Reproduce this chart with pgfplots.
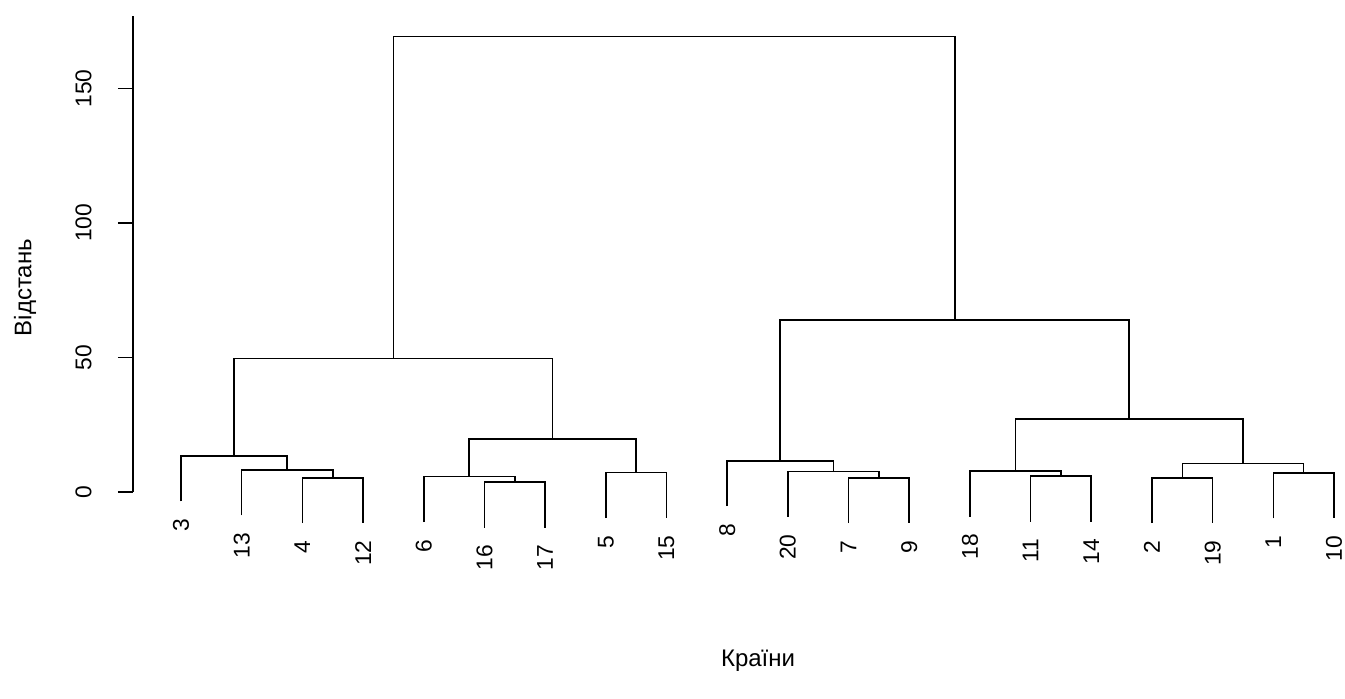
\documentclass[border=0pt]{standalone}
\usepackage{fontspec}
\setmainfont{Liberation Sans}
\usepackage{pgfplots}
\pgfplotsset{compat=1.18}
\usepackage{pgfplotstable}

\pgfplotstableread{
x y label
1 -9.95 3
2 -15.15 13
3 -18.05 4
4 -18.05 12
5 -17.65 6
6 -19.75 16
7 -19.75 17
8 -16.15 5
9 -16.15 15
10 -11.75 8
11 -15.75 20
12 -18.05 7
13 -18.05 9
14 -15.65 18
15 -17.5 11
16 -17.5 14
17 -18.05 2
18 -18.05 19
19 -16.25 1
20 -16.25 10
}\leaflabels

\newcommand{\rfont}{\fontsize{11.4}{13}\selectfont}
\newcommand{\lfont}{\fontsize{12}{14}\selectfont}

\begin{document}
\begin{tikzpicture}
\useasboundingbox (0,0) rectangle (672.5pt,349pt);
\begin{axis}[
  at={(66.5pt,103.15pt)}, anchor=south west,
  scale only axis,
  width=606pt, height=237.85pt,
  xmin=0.209, xmax=20.181,
  ymin=0, ymax=177,
  clip=false,
  axis x line*=bottom,
  x axis line style={draw=none},
  xtick=\empty,
  axis y line*=left,
  ytick={0,50,100,150},
  tick align=outside,
  major tick length=7.5pt,
  /pgf/number format/assume math mode=true,
  every tick/.style={black, line width=0.8pt},
  y axis line style={black, line width=0.8pt},
  yticklabel style={rotate=90, anchor=south, inner sep=0pt, font=\rfont},
  yticklabel shift=13pt,
  ylabel={Відстань},
  xlabel={Країни},
  ylabel style={at={(axis description cs:-0.0891,0.429)}, anchor=center, font=\lfont},
  xlabel style={at={(axis description cs:0.5157,-0.356)}, anchor=center, font=\lfont},
]
% merges
\addplot[black, line width=0.8pt] coordinates {(3,-11.7)(3,5.2)(4,5.2)(4,-11.7)};
\addplot[black, line width=0.8pt] coordinates {(2,-8.8)(2,8.1)(3.5,8.1)(3.5,5.2)};
\addplot[black, line width=0.8pt] coordinates {(1,-3.6)(1,13.3)(2.75,13.3)(2.75,8.1)};
\addplot[black, line width=0.8pt] coordinates {(6,-13.4)(6,3.5)(7,3.5)(7,-13.4)};
\addplot[black, line width=0.8pt] coordinates {(5,-11.3)(5,5.6)(6.5,5.6)(6.5,3.5)};
\addplot[black, line width=0.8pt] coordinates {(8,-9.8)(8,7.1)(9,7.1)(9,-9.8)};
\addplot[black, line width=0.8pt] coordinates {(5.75,5.6)(5.75,19.6)(8.5,19.6)(8.5,7.1)};
\addplot[black, line width=0.8pt] coordinates {(1.875,13.3)(1.875,49.6)(7.125,49.6)(7.125,19.6)};
\addplot[black, line width=0.8pt] coordinates {(12,-11.7)(12,5.2)(13,5.2)(13,-11.7)};
\addplot[black, line width=0.8pt] coordinates {(11,-9.4)(11,7.5)(12.5,7.5)(12.5,5.2)};
\addplot[black, line width=0.8pt] coordinates {(10,-5.4)(10,11.5)(11.75,11.5)(11.75,7.5)};
\addplot[black, line width=0.8pt] coordinates {(15,-11.15)(15,5.75)(16,5.75)(16,-11.15)};
\addplot[black, line width=0.8pt] coordinates {(14,-9.3)(14,7.6)(15.5,7.6)(15.5,5.75)};
\addplot[black, line width=0.8pt] coordinates {(17,-11.7)(17,5.2)(18,5.2)(18,-11.7)};
\addplot[black, line width=0.8pt] coordinates {(19,-9.9)(19,7.0)(20,7.0)(20,-9.9)};
\addplot[black, line width=0.8pt] coordinates {(17.5,5.2)(17.5,10.5)(19.5,10.5)(19.5,7.0)};
\addplot[black, line width=0.8pt] coordinates {(14.75,7.6)(14.75,27.0)(18.5,27.0)(18.5,10.5)};
\addplot[black, line width=0.8pt] coordinates {(10.875,11.5)(10.875,63.9)(16.625,63.9)(16.625,27.0)};
\addplot[black, line width=0.8pt] coordinates {(4.5,49.6)(4.5,169.3)(13.75,169.3)(13.75,63.9)};
% leaf labels
\addplot[draw=none, mark=none, nodes near coords, point meta=explicit symbolic,
  every node near coord/.append style={rotate=90, anchor=east, inner sep=0pt, font=\rfont, black}]
  table[x=x, y=y, meta=label] {\leaflabels};
\end{axis}
\end{tikzpicture}
\end{document}
